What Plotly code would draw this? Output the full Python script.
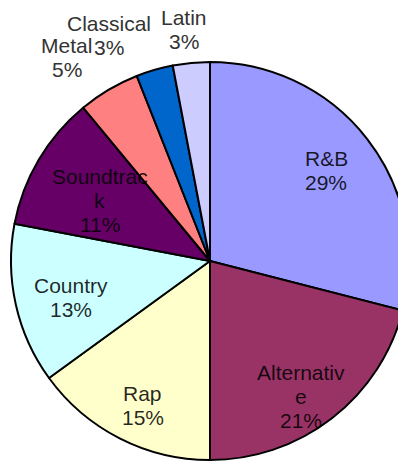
import math
import plotly.graph_objects as go

# Music genre shares (percent)
genres = ["R&B", "Alternative", "Rap", "Country", "Soundtrack", "Metal", "Classical", "Latin"]
shares = [29, 21, 15, 13, 11, 5, 3, 3]
# label text as wrapped in the chart
label_text = ["R&B", "Alternativ<br>e", "Rap", "Country", "Soundtrac<br>k", "Metal", "Classical", "Latin"]

colors = ["#9999FF", "#993366", "#FFFFCC", "#CCFFFF", "#660066", "#FF8080", "#0066CC", "#CCCCFF"]

# label placement: radius as a fraction of the pie radius, plus an angular nudge (deg)
label_radius = [0.74, 0.82, 0.80, 0.72, 0.63, 1.25, 1.24, 1.17]
label_nudge = [0, 4, -2, -2, -2, -4.5, -8, -1]

W, H = 420, 461
cx, cy, R = 210, 261, 199  # pie centre / radius in pixels
LINE = 24                   # label line spacing in pixels
FONT = "Liberation Sans, Arial, sans-serif"

fig = go.Figure(go.Pie(
    labels=genres,
    values=shares,
    sort=False,
    direction="clockwise",
    rotation=0,
    marker=dict(colors=colors, line=dict(color="black", width=2)),
    textinfo="none",
    hoverinfo="label+percent",
    showlegend=False,
    domain=dict(x=[(cx - R) / W, (cx + R) / W],
                y=[(H - cy - R) / H, (H - cy + R) / H]),
))

total = sum(shares)
cum = 0
annotations = []
for name, v, txt, rf, nd in zip(genres, shares, label_text, label_radius, label_nudge):
    mid = (cum + v / 2) / total * 360 + nd
    cum += v
    a = math.radians(mid)
    px = cx + rf * R * math.sin(a)
    py = cy - rf * R * math.cos(a)
    pct = round(v / total * 100)
    lines = txt.split("<br>") + [f"{pct}%"]
    n = len(lines)
    color = "rgba(0,0,0,0.85)" if rf < 1 else "#333333"
    for i, line in enumerate(lines):
        annotations.append(dict(
            x=px / W, y=1 - py / H, xref="paper", yref="paper",
            yshift=((n - 1) / 2 - i) * LINE,
            text=line, showarrow=False,
            font=dict(family=FONT, size=21, color=color),
            xanchor="center", yanchor="middle",
        ))

fig.update_layout(
    width=W, height=H,
    margin=dict(l=0, r=0, t=0, b=0),
    paper_bgcolor="white",
    plot_bgcolor="white",
    annotations=annotations,
)

fig.write_html(
    "out.html",
    post_script="document.body.style.overflow='hidden';document.documentElement.style.overflow='hidden';",
)
